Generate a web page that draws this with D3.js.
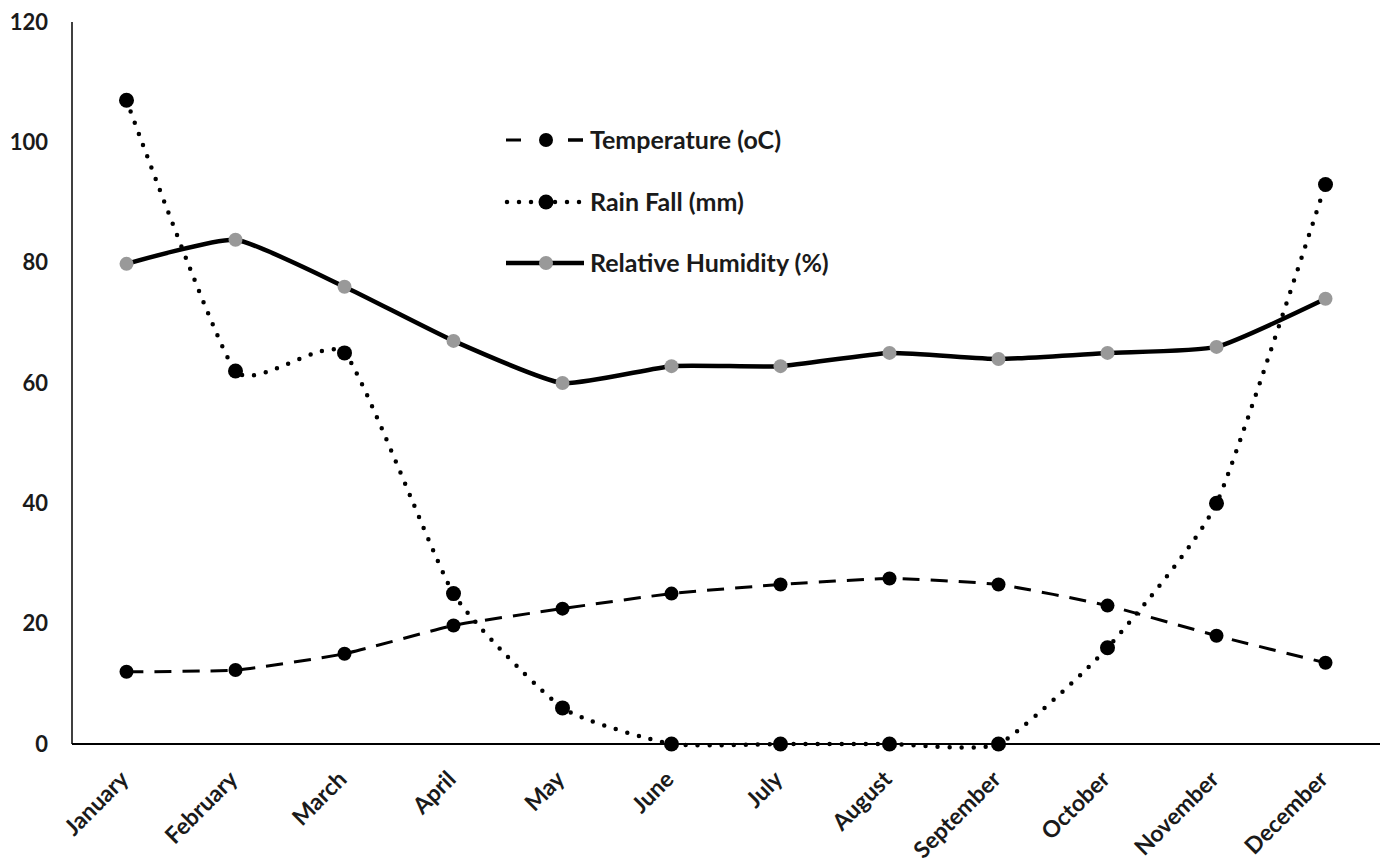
<!DOCTYPE html>
<html><head><meta charset="utf-8">
<script src="https://cdn.jsdelivr.net/npm/d3@7"></script>
<style>body{margin:0;background:#fff}svg{display:block}text{font-family:Lato,"Open Sans",sans-serif;font-weight:bold;fill:#1a1a1a}</style>
</head><body><svg id="c" width="1382" height="860"></svg>
<script>
const months = ["January","February","March","April","May","June","July","August","September","October","November","December"];
const temperature = [12, 12.3, 15, 19.7, 22.5, 25, 26.5, 27.5, 26.5, 23, 18, 13.5];
const rainfall = [107, 62, 65, 25, 6, 0, 0, 0, 0, 16, 40, 93];
const humidity = [79.8, 83.8, 76, 67, 60, 62.8, 62.8, 65, 64, 65, 66, 74];
const yTicks = [0, 20, 40, 60, 80, 100, 120];
const seriesNames = ["Temperature (oC)", "Rain Fall (mm)", "Relative Humidity (%)"];

const svg = d3.select("#c");
const x = d3.scaleBand().domain(months).range([72, 1380]);
const y = d3.scaleLinear().domain([0, 120]).range([744, 22]);
const cx = m => x(m) + x.bandwidth() / 2;

// axes
svg.append("line").attr("x1", 72).attr("x2", 72).attr("y1", y(120)).attr("y2", y(0)).attr("stroke", "#000").attr("stroke-width", 1.5);
svg.append("line").attr("x1", 72).attr("x2", 1380).attr("y1", y(0)).attr("y2", y(0)).attr("stroke", "#000").attr("stroke-width", 1.8);
svg.selectAll(".yt").data(yTicks).join("text").attr("x", 48).attr("y", d => y(d)).attr("dy", "0.35em")
  .attr("text-anchor", "end").attr("font-size", 22).text(d => d);
svg.selectAll(".xt").data(months).join("text")
  .attr("transform", d => `translate(${cx(d) - 2},${y(0) + 31}) rotate(-45)`)
  .attr("text-anchor", "end").attr("dy", "0.35em").attr("font-size", 23).text(d => d);

const line = d3.line().curve(d3.curveCardinal.tension(0.5)).x((d, i) => cx(months[i])).y(d => y(d));

const styles = [
  {data: temperature, width: 3, dash: "17,11", cap: "butt", fill: "#000", r: 7},
  {data: rainfall, width: 4.5, dash: "0,12", cap: "round", fill: "#000", r: 7.5},
  {data: humidity, width: 4.5, dash: null, cap: "butt", fill: "#999", r: 7}
];
styles.forEach(s => {
  svg.append("path").attr("d", line(s.data)).attr("fill", "none").attr("stroke", "#000")
    .attr("stroke-width", s.width).attr("stroke-dasharray", s.dash).attr("stroke-linecap", s.cap);
});
styles.forEach(s => {
  svg.append("g").selectAll("circle").data(s.data).join("circle")
    .attr("cx", (d, i) => cx(months[i])).attr("cy", d => y(d)).attr("r", s.r).attr("fill", s.fill);
});

// legend
const lg = svg.append("g");
const ly = [140, 202, 263];
styles.forEach((s, i) => {
  lg.append("line").attr("x1", 506).attr("x2", 584).attr("y1", ly[i]).attr("y2", ly[i]).attr("stroke", "#000")
    .attr("stroke-width", s.width).attr("stroke-dasharray", i === 0 ? "15,47" : s.dash).attr("stroke-linecap", s.cap)
    .attr("stroke-dashoffset", i === 1 ? -1 : 0);
  if (i === 0) {
    lg.append("line").attr("x1", 568).attr("x2", 583).attr("y1", ly[i]).attr("y2", ly[i]).attr("stroke", "#000").attr("stroke-width", s.width);
  }
  lg.append("circle").attr("cx", 546).attr("cy", ly[i]).attr("r", s.r).attr("fill", s.fill);
  lg.append("text").attr("x", 590).attr("y", ly[i]).attr("dy", "0.35em").attr("font-size", 25).text(seriesNames[i]);
});
</script></body></html>
